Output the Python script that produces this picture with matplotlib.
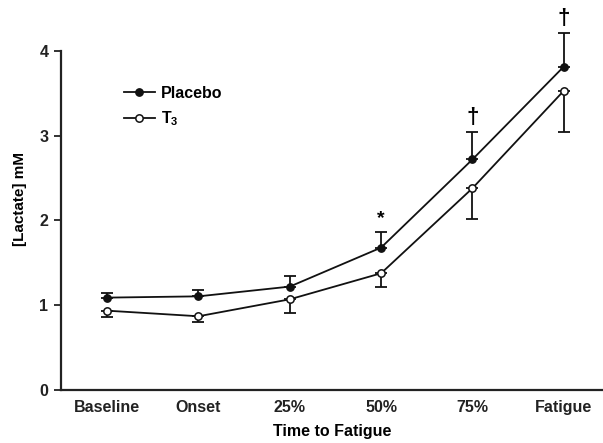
import numpy as np
import matplotlib.pyplot as plt

plt.rcParams['font.family'] = ['Liberation Sans', 'DejaVu Sans']
plt.rcParams['font.weight'] = 'bold'
plt.rcParams['mathtext.fontset'] = 'custom'
plt.rcParams['mathtext.bf'] = 'Liberation Sans:bold'

# Datos
categorias = ['Baseline', 'Onset', '25%', '50%', '75%', 'Fatigue']
placebo = [1.09, 1.105, 1.22, 1.68, 2.72, 3.815]
placebo_err = [0.06, 0.075, 0.125, 0.18, 0.32, 0.40]
t3 = [0.936, 0.87, 1.07, 1.377, 2.38, 3.53]
t3_err = [0.078, 0.07, 0.16, 0.167, 0.36, 0.49]
marcas = {3: '*', 4: '\u2020', 5: '\u2020'}

x = np.arange(len(categorias))

fig = plt.figure(figsize=(6.03, 4.43), dpi=100)
ax = fig.add_axes([61 / 603, 1 - 390 / 443, 1 - 61 / 603, (390 - 8.6) / 443])

# Barras de error en un solo sentido
ax.errorbar(x, placebo, yerr=[np.zeros(len(x)), placebo_err], fmt='none',
            ecolor='#111111', elinewidth=1.3, capsize=4, capthick=1.3, zorder=2)
ax.errorbar(x, t3, yerr=[t3_err, np.zeros(len(x))], fmt='none',
            ecolor='#111111', elinewidth=1.3, capsize=4, capthick=1.3, zorder=2)

ax.plot(x, placebo, '-o', color='#111111', mfc='#111111', mec='#111111',
        ms=5.3, lw=1.3, label='Placebo', zorder=3)
ax.plot(x, t3, '-o', color='#111111', mfc='white', mec='#111111',
        ms=5.3, mew=1.1, lw=1.3, label='T$_\\mathbf{3}$', zorder=3)

for i, m in marcas.items():
    ax.text(x[i], placebo[i] + placebo_err[i] + (0.06 if m == '*' else 0.05), m,
            ha='center', va='bottom',
            fontsize=14 if m == '*' else 16, fontweight='bold')

ax.set_xlim(-0.505, 5.43)
ax.set_ylim(0, 4.5)
ax.spines['top'].set_visible(False)
ax.spines['right'].set_visible(False)
ax.spines['left'].set_bounds(0, 4)
ax.spines['left'].set_linewidth(1.6)
ax.spines['bottom'].set_linewidth(1.6)
ax.spines['left'].set_color('#222222')
ax.spines['bottom'].set_color('#222222')

ax.set_yticks([0, 1, 2, 3, 4])
ax.set_xticks(x)
ax.set_xticklabels(categorias)
ax.tick_params(axis='y', length=5, width=1.3, labelsize=11.5, pad=4, colors='#222222')
ax.tick_params(axis='x', length=0, labelsize=11.5, pad=7, colors='#222222')

ax.set_xlabel('Time to Fatigue', fontsize=11.5, fontweight='bold', labelpad=7)
ax.set_ylabel('[Lactate] mM', fontsize=11, fontweight='bold', labelpad=9)

ax.legend(loc='upper left', bbox_to_anchor=(0.09, 0.835), frameon=False,
          fontsize=11.5, handlelength=1.9, handletextpad=0.4, labelspacing=0.55)

fig.savefig('out.png', dpi=100)
